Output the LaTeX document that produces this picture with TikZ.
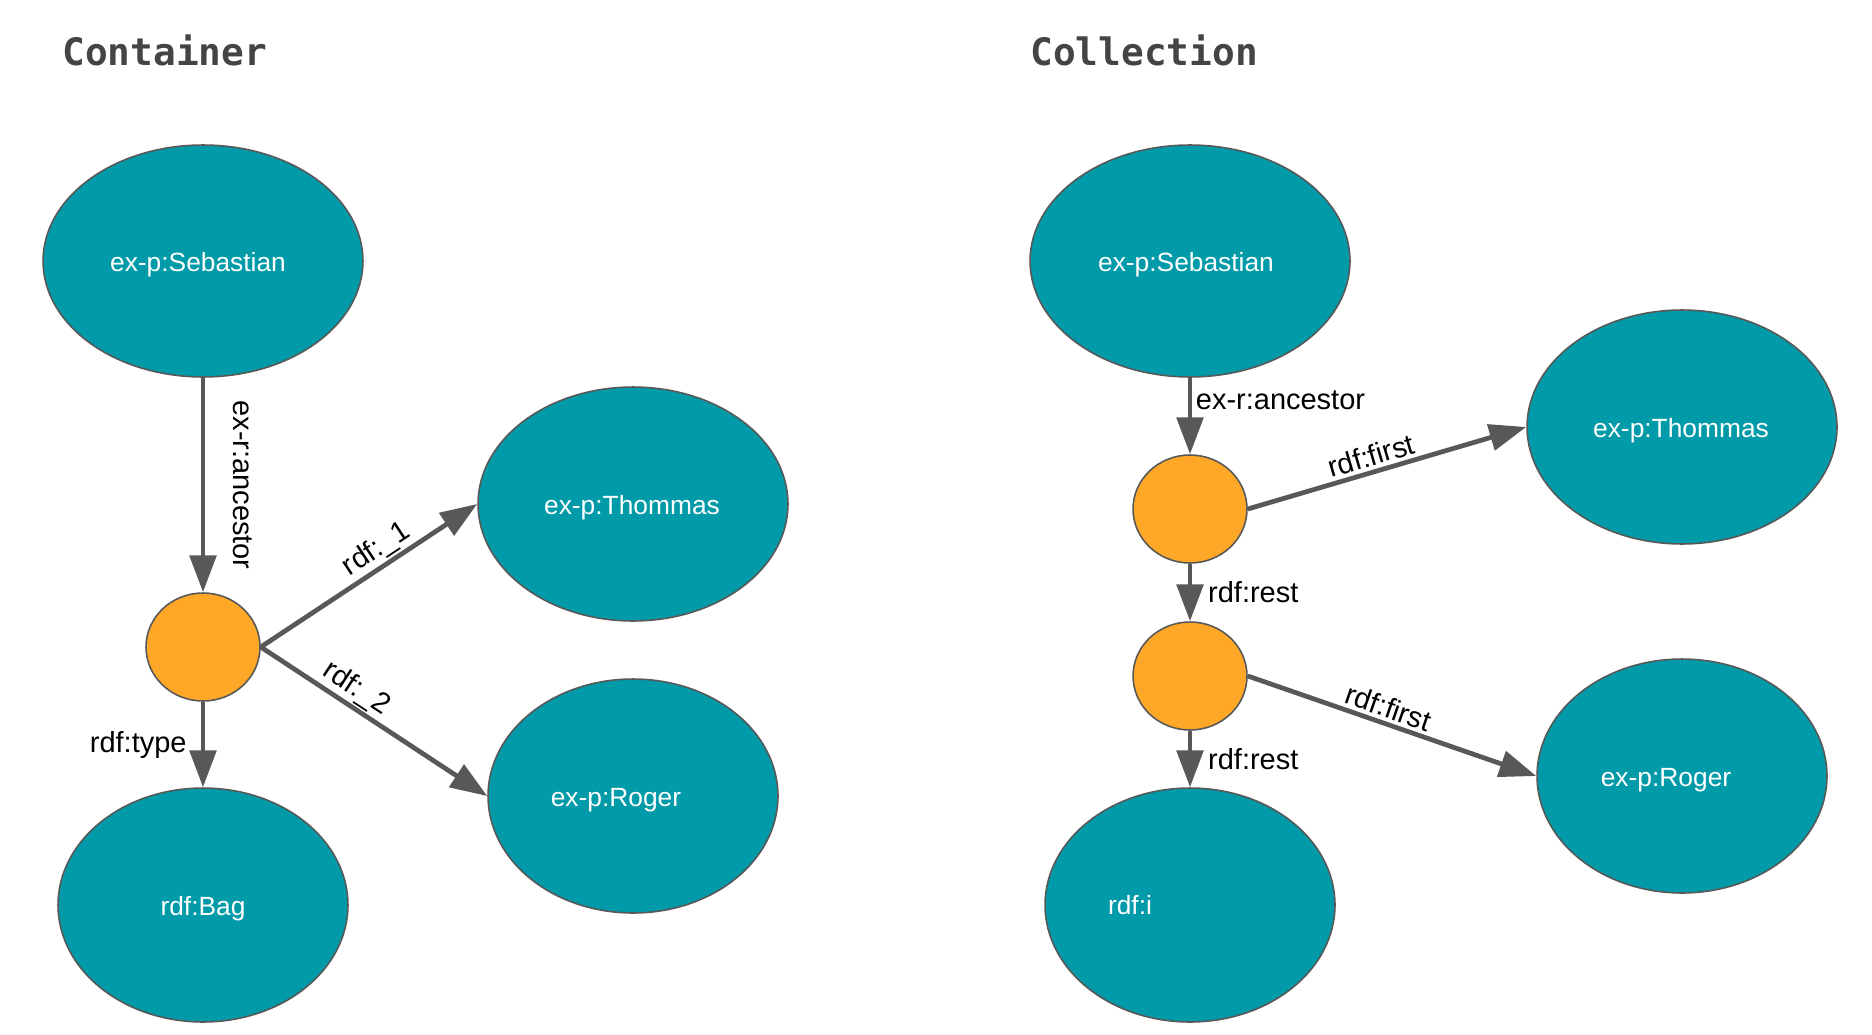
\documentclass[tikz,border=0pt]{standalone}
\usepackage{fontspec}
\setmainfont{Liberation Sans}
\newfontfamily\titlefont{DejaVu Sans Mono}
\usepackage{tikz}
\usetikzlibrary{shapes.geometric, arrows.meta}

\definecolor{nodeteal}{RGB}{0,154,168}
\definecolor{blankorange}{RGB}{255,168,40}
\definecolor{edgegray}{RGB}{88,88,88}
\definecolor{titlegray}{RGB}{68,68,68}

\begin{document}
\begin{tikzpicture}[x=0.02cm, y=-0.02cm,
    resource/.style={draw=edgegray, line width=0.9pt, fill=nodeteal, ellipse, inner sep=0pt},
    blanknode/.style={draw=edgegray, line width=0.9pt, fill=blankorange, ellipse,
      minimum width=2.28cm, minimum height=2.16cm, inner sep=0pt},
    restext/.style={text=white, font=\fontsize{15}{18}\selectfont},
    edge/.style={draw=edgegray, line width=2.7pt, -{Triangle[length=21pt, width=15pt]}},
    edgelabel/.style={font=\fontsize{16.5}{20}\selectfont, text=black},
    heading/.style={text=titlegray, font=\titlefont\bfseries\fontsize{21.5}{26}\selectfont,
      inner sep=0pt, anchor=base west}]
        \useasboundingbox (0,0) rectangle (1872,1034);

        % Define coordinates
        \coordinate (cont_seb_c) at (203,261);
        \coordinate (cont_blank_c) at (203,647);
        \coordinate (cont_thom_c) at (633,504);
        \coordinate (cont_roger_c) at (633,796);
        \coordinate (cont_bag_c) at (203,905);

        \coordinate (coll_seb_c) at (1190,261);
        \coordinate (coll_first_c) at (1190,509);
        \coordinate (coll_second_c) at (1190,676);
        \coordinate (coll_thom_c) at (1682,427);
        \coordinate (coll_roger_c) at (1682,776);
        \coordinate (coll_nil_c) at (1190,905);

        % Headings
        \node[heading] (cont_title) at (62,66) {Container};
        \node[heading] (coll_title) at (1030,66) {Collection};

        % Container: resources and blank node
        \node[resource, minimum width=6.4cm, minimum height=4.64cm] (cont_seb) at (cont_seb_c) {};
        \node[restext] at (198,265) {ex-p:Sebastian};
        \node[blanknode] (cont_blank) at (cont_blank_c) {};
        \node[resource, minimum width=6.2cm, minimum height=4.68cm] (cont_thom) at (cont_thom_c) {};
        \node[restext] at (632,508) {ex-p:Thommas};
        \node[resource, minimum width=5.8cm, minimum height=4.68cm] (cont_roger) at (cont_roger_c) {};
        \node[restext] at (616,800) {ex-p:Roger};
        \node[resource, minimum width=5.8cm, minimum height=4.68cm] (cont_bag) at (cont_bag_c) {};
        \node[restext] at (203,909) {rdf:Bag};

        % Container: edges
        \draw[edge] (cont_seb.south) -- node[edgelabel, midway, rotate=-90, anchor=south, inner sep=16pt] {ex-r:ancestor} (cont_blank.north);
        \draw[edge] (cont_blank.east) -- node[edgelabel, pos=0.58, sloped, above, inner sep=1pt] {rdf:\_1} (cont_thom.west);
        \draw[edge] (cont_blank.east) -- node[edgelabel, pos=0.38, sloped, above, inner sep=1pt] {rdf:\_2} (cont_roger.west);
        \draw[edge] (cont_blank.south) -- node[edgelabel, midway, left, inner sep=8pt] {rdf:type} (cont_bag.north);

        % Collection: resources and list nodes
        \node[resource, minimum width=6.4cm, minimum height=4.64cm] (coll_seb) at (coll_seb_c) {};
        \node[restext] at (1186,265) {ex-p:Sebastian};
        \node[blanknode] (coll_first) at (coll_first_c) {};
        \node[blanknode] (coll_second) at (coll_second_c) {};
        \node[resource, minimum width=6.2cm, minimum height=4.68cm] (coll_thom) at (coll_thom_c) {};
        \node[restext] at (1681,431) {ex-p:Thommas};
        \node[resource, minimum width=5.8cm, minimum height=4.68cm] (coll_roger) at (coll_roger_c) {};
        \node[restext] at (1666,780) {ex-p:Roger};
        \node[resource, minimum width=5.8cm, minimum height=4.68cm] (coll_nil) at (coll_nil_c) {};
        \node[restext] at (1130,905) {rdf:i};

        % Collection: edges
        \draw[edge] (coll_seb.south) -- node[edgelabel, pos=0.3, right, inner sep=2pt] {ex-r:ancestor} (coll_first.north);
        \draw[edge] (coll_first.east) -- node[edgelabel, pos=0.46, sloped, above, inner sep=2pt] {rdf:first} (coll_thom.west);
        \draw[edge] (coll_first.south) -- node[edgelabel, midway, right, inner sep=9pt] {rdf:rest} (coll_second.north);
        \draw[edge] (coll_second.east) -- node[edgelabel, pos=0.47, sloped, above, inner sep=2pt] {rdf:first} (coll_roger.west);
        \draw[edge] (coll_second.south) -- node[edgelabel, midway, right, inner sep=9pt] {rdf:rest} (coll_nil.north);
      \end{tikzpicture}
\end{document}
